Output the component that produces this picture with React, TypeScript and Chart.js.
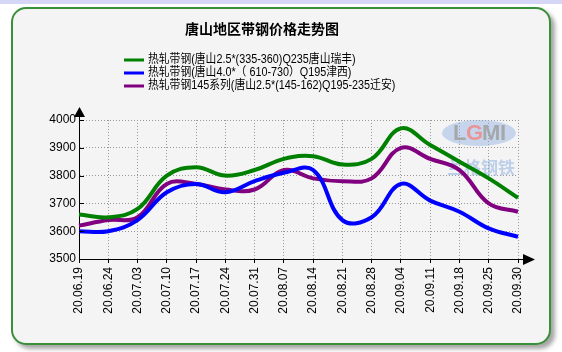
import React, { useEffect, useRef } from "react";
import { Chart, registerables } from "chart.js";

Chart.register(...registerables);

const chartTitle = "唐山地区带钢价格走势图";
const categories = [
  "20.06.19", "20.06.24", "20.07.03", "20.07.10", "20.07.17", "20.07.24", "20.07.31", "20.08.07",
  "20.08.14", "20.08.21", "20.08.28", "20.09.04", "20.09.11", "20.09.18", "20.09.25", "20.09.30",
];
const seriesNames = [
  "热轧带钢(唐山2.5*(335-360)Q235唐山瑞丰)",
  "热轧带钢(唐山4.0*（ 610-730）Q195津西)",
  "热轧带钢145系列(唐山2.5*(145-162)Q195-235迁安)",
];
const seriesColors = ["#008000", "#0000ff", "#800080"];
const greenValues = [3660, 3650, 3680, 3800, 3830, 3800, 3820, 3860, 3870, 3840, 3860, 3970, 3910, 3850, 3790, 3720];
const blueValues = [3600, 3600, 3640, 3740, 3770, 3740, 3780, 3810, 3820, 3640, 3650, 3770, 3710, 3670, 3610, 3580];
const purpleValues = [3620, 3640, 3650, 3770, 3770, 3750, 3750, 3820, 3790, 3780, 3790, 3900, 3860, 3820, 3700, 3670];
const yMin = 3500;
const yMax = 4000;
const yStep = 100;

const overlayPlugin = {
  id: "overlay",
  beforeDatasetsDraw(chart: any) {
    const ctx = chart.ctx;
    // watermark
    ctx.save();
    ctx.globalAlpha = 0.45;
    ctx.fillStyle = "#8fb0e0";
    ctx.beginPath();
    ctx.ellipse(479, 133, 37, 13, 0, 0, Math.PI * 2);
    ctx.fill();
    ctx.globalAlpha = 0.85;
    ctx.font = "bold 22px 'Liberation Sans'";
    ctx.textAlign = "left";
    ctx.textBaseline = "middle";
    ctx.fillStyle = "#a0a0a0";
    ctx.fillText("L", 453, 134);
    ctx.fillStyle = "#f08a8a";
    ctx.fillText("G", 466, 134);
    ctx.fillStyle = "#a0a0a0";
    ctx.fillText("M", 482, 134);
    ctx.fillText("I", 500, 134);
    ctx.globalAlpha = 0.55;
    ctx.fillStyle = "#8fb0e0";
    ctx.textAlign = "center";
    ctx.font = "bold 17px 'Noto Sans CJK SC'";
    ctx.fillText("兰格钢铁", 481, 168);
    ctx.restore();
  },
  afterDraw(chart: any) {
    const ctx = chart.ctx;
    const a = chart.chartArea;
    ctx.save();
    // title
    ctx.fillStyle = "#000";
    ctx.font = "bold 14px 'Noto Sans CJK SC'";
    ctx.textAlign = "center";
    ctx.textBaseline = "middle";
    ctx.fillText(chartTitle, 262, 29);
    // legend
    ctx.textAlign = "left";
    ctx.font = "12px 'Liberation Sans', 'Noto Sans CJK SC'";
    const rows = [60, 73, 86];
    chart.data.datasets.forEach((ds: any, i: number) => {
      ctx.strokeStyle = ds.borderColor;
      ctx.lineWidth = 3;
      ctx.beginPath();
      ctx.moveTo(124, rows[i]);
      ctx.lineTo(144, rows[i]);
      ctx.stroke();
      ctx.fillStyle = "#000";
      const w = ctx.measureText(ds.label).width;
      ctx.fillText(ds.label, 148, rows[i], w * 0.9);
    });
    // axes extensions and arrows
    ctx.strokeStyle = "#000";
    ctx.fillStyle = "#000";
    ctx.lineWidth = 1;
    ctx.beginPath();
    ctx.moveTo(a.left + 0.5, a.top);
    ctx.lineTo(a.left + 0.5, a.top - 4);
    ctx.moveTo(a.right, a.bottom + 0.5);
    ctx.lineTo(a.right + 6, a.bottom + 0.5);
    ctx.stroke();
    ctx.beginPath();
    ctx.moveTo(a.left + 0.5, a.top - 13);
    ctx.lineTo(a.left - 5, a.top - 3);
    ctx.lineTo(a.left + 6, a.top - 3);
    ctx.closePath();
    ctx.fill();
    ctx.beginPath();
    ctx.moveTo(a.right + 17, a.bottom + 0.5);
    ctx.lineTo(a.right + 5, a.bottom - 5);
    ctx.lineTo(a.right + 5, a.bottom + 6);
    ctx.closePath();
    ctx.fill();
    // inward y ticks
    const ys = chart.scales.y;
    ctx.beginPath();
    for (let v = yMin; v <= yMax; v += yStep) {
      const y = Math.round(ys.getPixelForValue(v)) + 0.5;
      ctx.moveTo(a.left, y);
      ctx.lineTo(a.left + 5, y);
    }
    ctx.stroke();
    ctx.restore();
  },
};

export default function App() {
  const ref = useRef<HTMLCanvasElement | null>(null);
  useEffect(() => {
    if (!ref.current) return;
    const values = [greenValues, blueValues, purpleValues];
    const chart = new Chart(ref.current, {
      type: "line",
      data: {
        labels: categories,
        datasets: seriesNames.map((name, i) => ({
          label: name,
          data: values[i],
          borderColor: seriesColors[i],
          backgroundColor: seriesColors[i],
          borderWidth: 4,
          pointRadius: 0,
          tension: 0.4,
          fill: false,
        })),
      },
      options: {
        animation: false,
        responsive: false,
        maintainAspectRatio: false,
        layout: { padding: { top: 120, right: 44, left: 0, bottom: 0 } },
        plugins: { legend: { display: false }, title: { display: false }, tooltip: { enabled: false } },
        scales: {
          x: {
            afterFit: (s: any) => { s.height = 93; },
            grid: {
              color: "#999",
              tickColor: "#000",
              tickLength: 4,
              tickBorderDash: [],
              lineWidth: 1,
            },
            border: { display: true, color: "#000", width: 1, dash: [1, 2] },
            ticks: {
              autoSkip: false,
              minRotation: 90,
              maxRotation: 90,
              padding: 4,
              color: "#000",
              font: { family: "'Liberation Sans'", size: 12 },
            },
          },
          y: {
            min: yMin,
            max: yMax,
            afterFit: (s: any) => { s.width = 79; },
            grid: { color: "#999", drawTicks: false, lineWidth: 1 },
            border: { display: true, color: "#000", width: 1, dash: [1, 2] },
            ticks: {
              stepSize: yStep,
              padding: 3,
              color: "#000",
              font: { family: "'Liberation Sans'", size: 12 },
              callback: (v: any) => String(v),
            },
          },
        },
      },
      plugins: [overlayPlugin],
    });
    return () => chart.destroy();
  }, []);

  return (
    <div style={{ position: "absolute", left: 0, top: 0, width: 562, height: 352, background: "#ffffff", overflow: "hidden" }}>
      <div style={{ position: "absolute", left: 0, top: 0, width: 562, height: 4, background: "#d6d6f6" }} />
      <div
        style={{
          position: "absolute",
          left: 11,
          top: 7,
          width: 536,
          height: 334,
          background: "#f4f4f4",
          border: "2px solid #3a8f3a",
          borderRadius: 15,
          boxShadow: "4px 4px 4px rgba(0,0,0,0.35)",
        }}
      />
      <canvas ref={ref} width={562} height={352} style={{ position: "absolute", left: 0, top: 0, width: 562, height: 352 }} />
    </div>
  );
}
